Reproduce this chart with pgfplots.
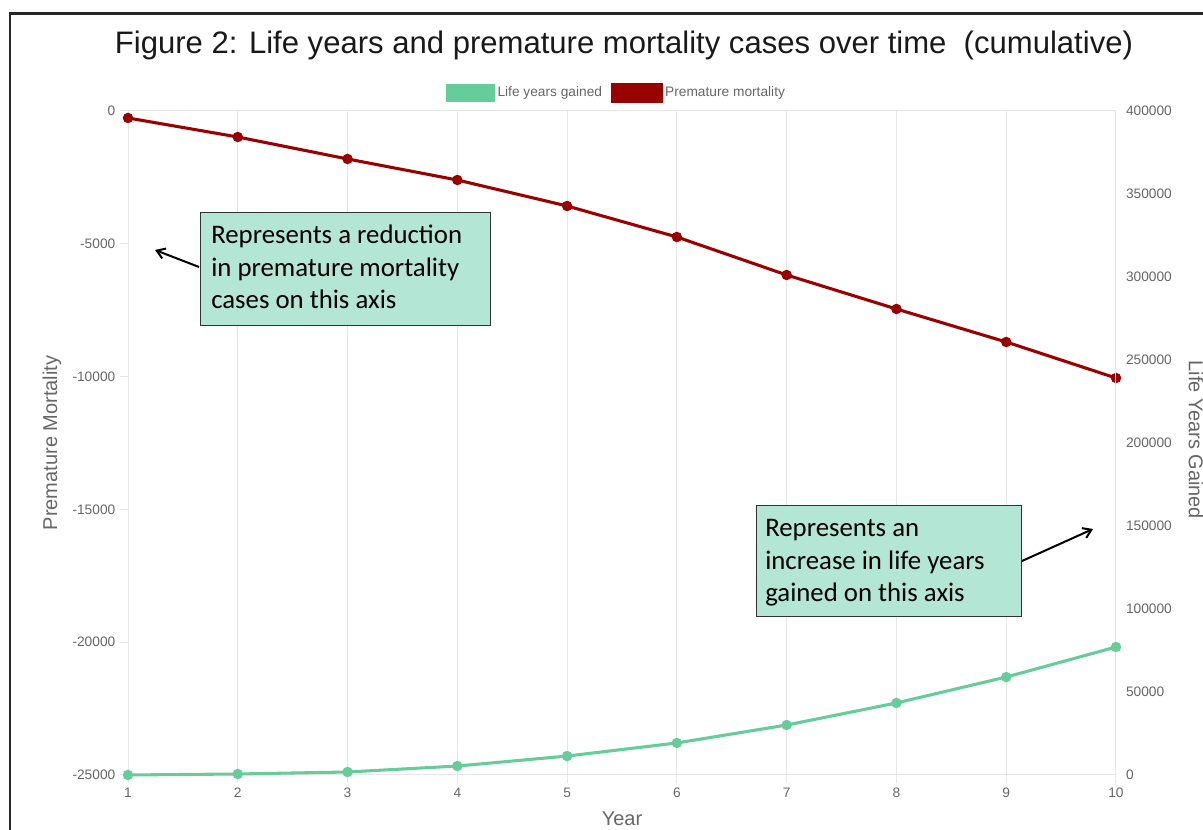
\documentclass[border=0pt]{standalone}
\usepackage{pgfplots}
\pgfplotsset{compat=1.18}
\usetikzlibrary{arrows.meta}
\usepackage{fontspec}
\setmainfont{Liberation Sans}
\newfontfamily\calibri{Carlito}
\definecolor{lygreen}{HTML}{66CC99}
\definecolor{pmred}{HTML}{990000}
\definecolor{tickgray}{HTML}{666666}
\definecolor{gridgray}{HTML}{E6E6E6}
\definecolor{boxfill}{HTML}{B3E6D4}

\pgfplotstableread{
year pm
1 -263
2 -979
3 -1807
4 -2598
5 -3577
6 -4744
7 -6175
8 -7455
9 -8697
10 -10053
}\pmdata

\pgfplotstableread{
year ly
1 0
2 600
3 1800
4 5400
5 11400
6 19300
7 30100
8 43400
9 59000
10 77100
}\lydata

\begin{document}
\begin{tikzpicture}
\useasboundingbox (0,0) rectangle (902.25pt,622.5pt);
\pgfplotsset{
  common/.style={
    scale only axis, width=741pt, height=498pt,
    at={(96pt,41.25pt)}, anchor=south west,
    xmin=1, xmax=10, clip=false,
    /pgf/number format/assume math mode=true,
    /pgf/number format/fixed,
    /pgf/number format/1000 sep={},
    ticklabel style={font=\fontsize{10.3}{11}\selectfont, text=tickgray},
    label style={font=\fontsize{15}{17}\selectfont, text=tickgray},
    axis line style={gridgray, line width=0.75pt},
    scaled y ticks=false,
  }
}
\begin{axis}[common,
  ymin=-25000, ymax=0,
  ytick={-25000,-20000,-15000,-10000,-5000,0},
  xtick={1,...,10},
  xmajorgrids, major grid style={gridgray, line width=0.75pt},
  tick style={gridgray, line width=0.75pt},
  major tick length=6pt, tick align=outside,
  xtick pos=bottom, ytick pos=left,
  xlabel={Year},
  xlabel style={at={(axis description cs:0.5,-0.066)}, anchor=center},
  ylabel={Premature Mortality},
  ylabel style={at={(axis description cs:-0.0769,0.5)}, anchor=center},
  legend columns=2,
  legend style={at={(axis description cs:0.5,1)}, anchor=center, yshift=13.5pt, xshift=-3.75pt,
    draw=none, fill=none, font=\fontsize{10.3}{11}\selectfont, text=tickgray,
    /tikz/every even column/.append style={column sep=5pt}},
  legend image code/.code={\fill (0pt,-6.375pt) rectangle (36pt,6.375pt);},
]
\addlegendimage{color=lygreen}
\addlegendentry{Life years gained}
\addplot[color=pmred, line width=2.3pt, mark=*, mark size=2.7pt, mark options={solid}] table[x=year,y=pm] {\pmdata};
\addlegendentry{Premature mortality}
\end{axis}

\begin{axis}[common,
  ymin=0, ymax=400000,
  ytick={0,50000,...,400000},
  axis x line=none,
  axis y line*=right,
  major tick length=0pt,
  yticklabel style={xshift=4pt},
  ylabel={Life Years Gained},
  ylabel style={at={(axis description cs:1.081,0.5045)}, anchor=center, rotate=180},
]
\addplot[color=lygreen, line width=2.3pt, mark=*, mark size=2.7pt, mark options={solid}] table[x=year,y=ly] {\lydata};
\end{axis}

\begin{scope}[x=0.75pt, y=-0.75pt, yshift=622.5pt]
  % frame
  \draw[line width=1.9pt, black!85] (10,830) -- (10,13.5) -- (1203,13.5);
  % title
  \node[font=\fontsize{23.3}{27}\selectfont, text=black!90] at (624,45) {Figure 2: Life years and premature mortality cases over time\ \ (cumulative)};
  % annotation 1
  \draw[fill=boxfill, draw=black!80, line width=0.6pt] (200,212) rectangle (490,325);
  \begin{scope}[every node/.style={anchor=base west, inner sep=0pt, font=\calibri\fontsize{20.1}{24}\selectfont}]
    \node at (211,244) {Represents a reduction};
    \node at (211,276.5) {in premature mortality};
    \node at (211,309) {cases on this axis};
  \end{scope}
  \draw[line width=1.5pt, -{Straight Barb[length=6pt,width=8pt]}] (199,267) -- (155,250);
  % annotation 2
  \draw[fill=boxfill, draw=black!80, line width=0.6pt] (756,505) rectangle (1021,616);
  \begin{scope}[every node/.style={anchor=base west, inner sep=0pt, font=\calibri\fontsize{20.1}{24}\selectfont}]
    \node at (765,537) {Represents an};
    \node at (765,569.5) {increase in life years};
    \node at (765,602) {gained on this axis};
  \end{scope}
  \draw[line width=1.5pt, -{Straight Barb[length=6pt,width=8pt]}] (1022,561) -- (1093,529);
\end{scope}
\end{tikzpicture}
\end{document}
